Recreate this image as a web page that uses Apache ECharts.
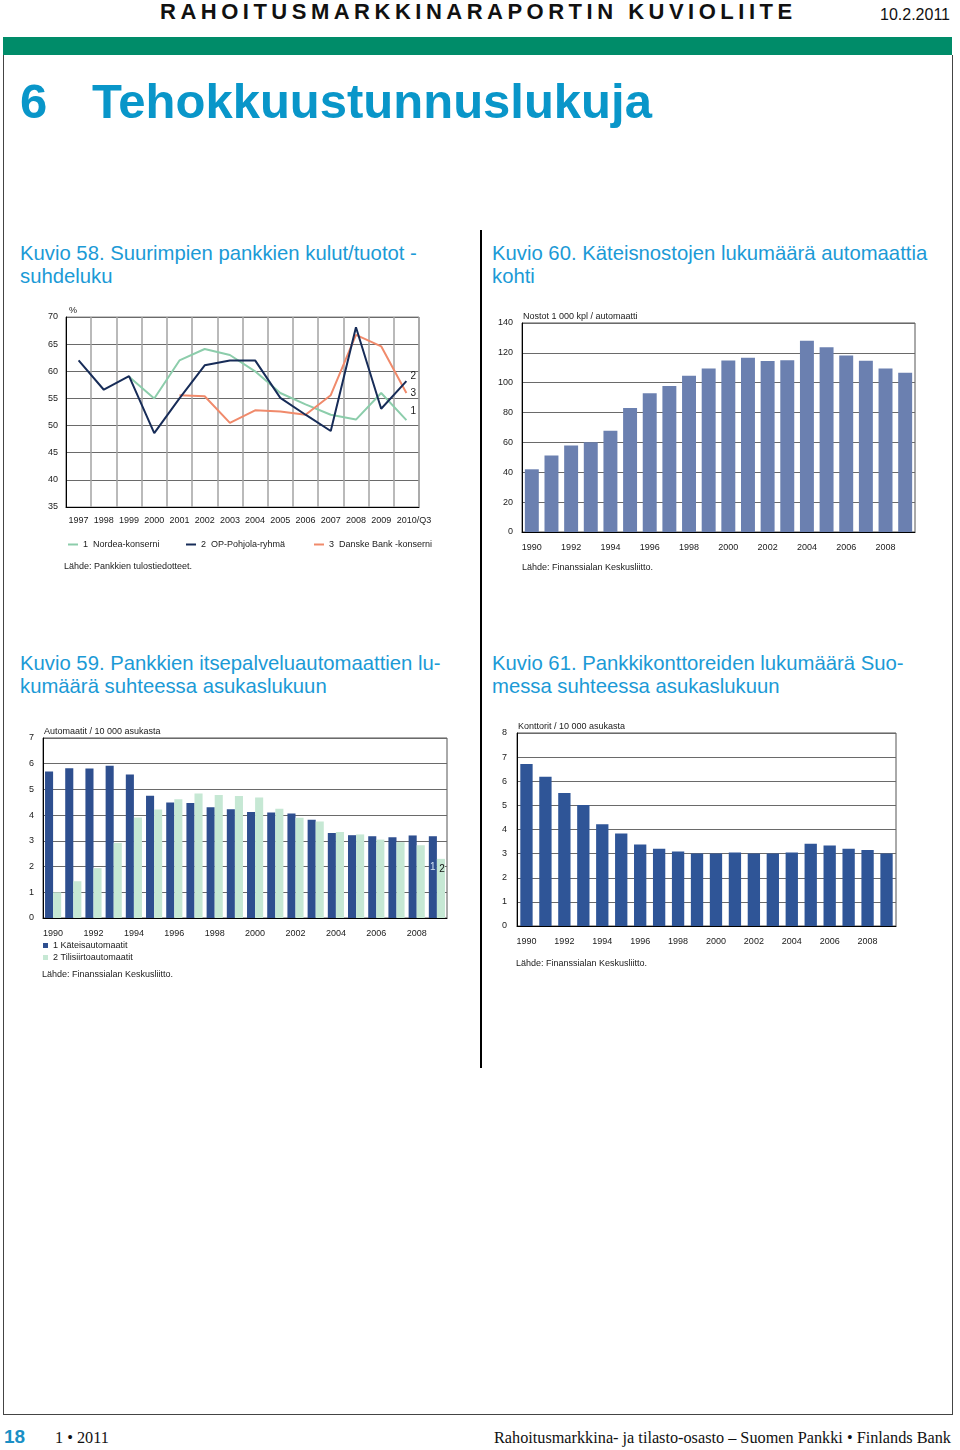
<!DOCTYPE html>
<html><head><meta charset="utf-8">
<script src="https://cdn.jsdelivr.net/npm/echarts@6/dist/echarts.min.js"></script>
<style>
html,body{margin:0;padding:0}
body{width:960px;height:1450px;position:relative;background:#fff;font-family:"Liberation Sans",Arial,sans-serif;overflow:hidden}
.abs{position:absolute;white-space:nowrap}
.ct{color:#1b9ad6;font-size:20.3px;line-height:23px}
.serif{font-family:"Liberation Serif","Times New Roman",serif;font-size:16.25px;line-height:18px;color:#111}
#chart{position:absolute;left:0;top:0;width:960px;height:1450px}
</style></head><body>
<div class="abs" style="left:160px;top:0px;font-size:22px;line-height:24px;font-weight:bold;letter-spacing:4.5px;color:#111">RAHOITUSMARKKINARAPORTIN KUVIOLIITE</div>
<div class="abs" style="left:880px;top:6px;font-size:16px;line-height:18px;color:#111">10.2.2011</div>
<div class="abs" style="left:3px;top:37px;width:949px;height:18px;background:#008c69"></div>
<div class="abs" style="left:3px;top:55px;width:948px;height:1359px;border:1px solid #444;border-top:none"></div>
<div class="abs" style="left:20px;top:72px;font-size:49px;line-height:58px;font-weight:bold;color:#0996c9">6</div>
<div class="abs" style="left:92px;top:72px;font-size:49px;line-height:58px;font-weight:bold;color:#0996c9">Tehokkuustunnuslukuja</div>
<div class="abs" style="left:480px;top:230px;width:1.5px;height:838px;background:#000"></div>
<div class="abs ct" style="left:20px;top:242px">Kuvio 58. Suurimpien pankkien kulut/tuotot -<br>suhdeluku</div>
<div class="abs ct" style="left:492px;top:242px">Kuvio 60. Käteisnostojen lukumäärä automaattia<br>kohti</div>
<div class="abs ct" style="left:20px;top:652px">Kuvio 59. Pankkien itsepalveluautomaattien lu-<br>kumäärä suhteessa asukaslukuun</div>
<div class="abs ct" style="left:492px;top:652px">Kuvio 61. Pankkikonttoreiden lukumäärä Suo-<br>messa suhteessa asukaslukuun</div>
<div class="abs" style="left:4px;top:1426px;font-size:19px;line-height:22px;font-weight:bold;color:#1a8fc5">18</div>
<div class="abs serif" style="left:55px;top:1429px">1 • 2011</div>
<div class="abs serif" style="right:9px;top:1429px">Rahoitusmarkkina- ja tilasto-osasto – Suomen Pankki • Finlands Bank</div>
<div id="chart"></div>
<script>
// ---- Kuvio 58 ----
const years58 = ['1997','1998','1999','2000','2001','2002','2003','2004','2005','2006','2007','2008','2009','2010/Q3'];
const nordea = [null,null,59,55,62,64.1,63,60,56,53.9,52,51.1,56,51];
const opPohjola = [62,56.6,59.1,48.6,55,61.1,62,62,55.1,52,49,68.1,53.1,58.2];
const danske = [null,null,null,null,55.6,55.4,50.5,52.8,52.6,52,55.6,66.7,64.6,56];
// ---- Kuvio 60 ----
const years = ['1990','1991','1992','1993','1994','1995','1996','1997','1998','1999','2000','2001','2002','2003','2004','2005','2006','2007','2008','2009'];
const withdrawals = [42,51.2,57.9,60.1,67.9,83.1,92.9,97.8,104.7,109.6,114.9,116.7,114.5,115.1,128.1,123.8,118.3,114.7,109.6,106.7];
// ---- Kuvio 59 ----
const cashAtms = [5.70,5.82,5.81,5.92,5.58,4.75,4.49,4.47,4.31,4.23,4.12,4.10,4.06,3.82,3.31,3.22,3.18,3.14,3.21,3.18];
const transferAtms = [1.00,1.43,1.94,2.92,3.91,4.22,4.62,4.84,4.78,4.74,4.69,4.25,3.90,3.75,3.34,3.25,3.05,2.95,2.83,2.30];
// ---- Kuvio 61 ----
const branches = [6.71,6.19,5.51,5.02,4.22,3.83,3.38,3.20,3.09,3.01,3.01,3.05,3.01,3.01,3.05,3.41,3.34,3.20,3.15,3.01];

const FONT = '"Liberation Sans", Arial, sans-serif';
const TXT = '#1a1a1a';
const chart = echarts.init(document.getElementById('chart'), null, {renderer:'canvas'});

function yAx(gi, min, max, interval, name, margin){
  return {type:'value', gridIndex:gi, min:min, max:max, interval:interval,
    name:name, nameLocation:'end', nameGap:2,
    nameTextStyle:{align:'left', verticalAlign:'bottom', fontSize:9, color:TXT, fontFamily:FONT, padding:[0,0,0,1]},
    axisLine:{show:true, lineStyle:{color:'#000', width:1}}, axisTick:{show:false},
    axisLabel:{fontSize:9, color:TXT, fontFamily:FONT, margin:margin},
    splitLine:{show:true, lineStyle:{color:'#6a6a6a', width:1}}};
}
function xAx(gi, data, interval, margin){
  return {type:'category', gridIndex:gi, data:data, boundaryGap:true,
    axisLine:{show:true, onZero:false, lineStyle:{color:'#000', width:1}}, axisTick:{show:false},
    axisLabel:{interval:interval, fontSize:9, color:TXT, fontFamily:FONT, margin:margin},
    splitLine:{show:false}};
}

const last = years.length - 1;
const x58 = xAx(0, years58, 0, 9);
x58.splitLine = {show:true, interval:0, lineStyle:{color:'#a3a3a3', width:1.5}};
x58.axisLabel.formatter = v => v === years58[years58.length-1] ? '{q|' + v + '}' : v;
x58.axisLabel.rich = {q:{fontSize:9, color:TXT, fontFamily:FONT, padding:[0,0,0,15]}};
const y58 = yAx(0, 35, 70, 5, '%', 8);
y58.nameTextStyle.padding = [0,0,0,3];

const legText = {fontSize:9, color:TXT};
const option = {
  animation:false,
  textStyle:{fontFamily:FONT},
  title:[
    {text:'Lähde: Pankkien tulostiedotteet.', left:64, top:562, textStyle:{fontSize:9, fontWeight:'normal', color:TXT}, padding:0},
    {text:'Lähde: Finanssialan Keskusliitto.', left:522, top:563, textStyle:{fontSize:9, fontWeight:'normal', color:TXT}, padding:0},
    {text:'Lähde: Finanssialan Keskusliitto.', left:42, top:970, textStyle:{fontSize:9, fontWeight:'normal', color:TXT}, padding:0},
    {text:'Lähde: Finanssialan Keskusliitto.', left:516, top:959, textStyle:{fontSize:9, fontWeight:'normal', color:TXT}, padding:0}
  ],
  legend:[
    {left:68, top:540, padding:0, icon:'rect', itemWidth:10, itemHeight:2, data:['1  Nordea-konserni'], textStyle:legText},
    {left:186, top:540, padding:0, icon:'rect', itemWidth:10, itemHeight:2, data:['2  OP-Pohjola-ryhmä'], textStyle:legText},
    {left:314, top:540, padding:0, icon:'rect', itemWidth:10, itemHeight:2, data:['3  Danske Bank -konserni'], textStyle:legText},
    {left:43, top:941, padding:0, orient:'vertical', icon:'rect', itemWidth:5, itemHeight:5, itemGap:3,
      data:['1 Käteisautomaatit','2 Tilisiirtoautomaatit'], textStyle:legText}
  ],
  grid:[
    {left:66, top:317, width:353, height:190, show:true, borderColor:'#8a8a8a', borderWidth:1},
    {left:522, top:323, width:393, height:209, show:true, borderColor:'#555', borderWidth:1},
    {left:43, top:738, width:404, height:180, show:true, borderColor:'#555', borderWidth:1},
    {left:517, top:733, width:379, height:193, show:true, borderColor:'#555', borderWidth:1}
  ],
  xAxis:[ x58, xAx(1, years, 1, 11), xAx(2, years, 1, 11), xAx(3, years, 1, 11) ],
  yAxis:[ y58,
    yAx(1, 0, 140, 20, 'Nostot 1 000 kpl / automaatti', 9),
    yAx(2, 0, 7, 1, 'Automaatit / 10 000 asukasta', 9),
    yAx(3, 0, 8, 1, 'Konttorit / 10 000 asukasta', 10) ],
  series:[
    {name:'1  Nordea-konserni', type:'line', xAxisIndex:0, yAxisIndex:0, data:nordea, symbol:'none', connectNulls:false,
      lineStyle:{width:2, color:'#8ccdab'}, itemStyle:{color:'#8ccdab'}, z:3,
      endLabel:{show:true, formatter:'1', fontSize:10, color:TXT, distance:4, offset:[0,-9]}},
    {name:'3  Danske Bank -konserni', type:'line', xAxisIndex:0, yAxisIndex:0, data:danske, symbol:'none',
      lineStyle:{width:2, color:'#f08a6b'}, itemStyle:{color:'#f08a6b'}, z:4,
      endLabel:{show:true, formatter:'3', fontSize:10, color:TXT, distance:4, offset:[0,0]}},
    {name:'2  OP-Pohjola-ryhmä', type:'line', xAxisIndex:0, yAxisIndex:0, data:opPohjola, symbol:'none',
      lineStyle:{width:2, color:'#172c58'}, itemStyle:{color:'#172c58'}, z:5,
      endLabel:{show:true, formatter:'2', fontSize:10, color:TXT, distance:4, offset:[0,-5]}},
    {name:'Nostot', type:'bar', xAxisIndex:1, yAxisIndex:1, data:withdrawals, barCategoryGap:'29%',
      itemStyle:{color:'#6b80b0'}},
    {name:'1 Käteisautomaatit', type:'bar', xAxisIndex:2, yAxisIndex:2, barGap:'0%', barCategoryGap:'20%',
      itemStyle:{color:'#2e4f8f'},
      data:cashAtms.map((v,i)=> i===last ? {value:v, label:{show:true, formatter:'1', position:'insideTop', offset:[0,21], fontSize:10, color:'#d2e3f4'}} : v)},
    {name:'2 Tilisiirtoautomaatit', type:'bar', xAxisIndex:2, yAxisIndex:2, barGap:'0%', barCategoryGap:'20%',
      itemStyle:{color:'#c6e8d4'},
      data:transferAtms.map((v,i)=> i===last ? {value:v, label:{show:true, formatter:'2', position:'insideTop', offset:[1,0], fontSize:10, color:'#111'}} : v)},
    {name:'Konttorit', type:'bar', xAxisIndex:3, yAxisIndex:3, data:branches, barCategoryGap:'35%',
      itemStyle:{color:'#2f5597'}}
  ]
};
chart.setOption(option);
</script>
</body></html>
